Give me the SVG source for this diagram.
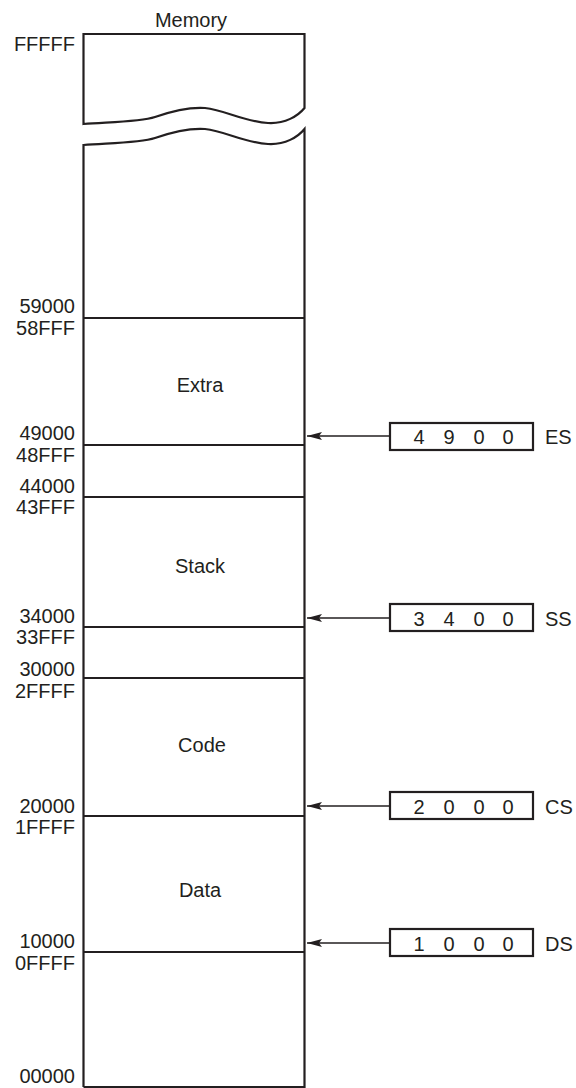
<svg xmlns="http://www.w3.org/2000/svg" width="576" height="1088" viewBox="0 0 576 1088">
<style>
text{font-family:"Liberation Sans",Arial,sans-serif;font-size:20px;fill:#231f20}
.addr{text-anchor:end}
.seg{text-anchor:middle}
.mem{fill:none;stroke:#231f20;stroke-width:2.2}
.div{stroke:#231f20;stroke-width:2.2}
.box{fill:#fff;stroke:#231f20;stroke-width:2.2}
.arr{stroke:#231f20;stroke-width:1.3;marker-end:url(#ah)}
.dig{text-anchor:middle}
</style>
<defs>
<marker id="ah" viewBox="0 0 15 8" refX="15" refY="4" markerWidth="15" markerHeight="8" markerUnits="userSpaceOnUse" orient="auto">
<path d="M0,0 L15,4 L0,8 L3,4 Z" fill="#231f20"/>
</marker>
</defs>
<g id="memory">
<text x="191" y="27" class="seg">Memory</text>
<path class="mem" d="M83.5,124 L83.5,34 L304.5,34 L304.5,108 C298,116 285,124 268,123 C245,122 225,110 205,108 C190,107 175,110 155,117 C140,122 110,122 83.5,124 Z"/>
<path class="mem" d="M83.5,1087 L83.5,145 C110,143 140,143 155,138 C175,131 190,128 205,129 C225,131 245,143 268,144 C285,145 298,137 304.5,129 L304.5,1087 L83.5,1087"/>
</g>
<g id="divisions">
<line class="div" x1="83.5" y1="318" x2="304.5" y2="318"/>
<line class="div" x1="83.5" y1="445" x2="304.5" y2="445"/>
<line class="div" x1="83.5" y1="497" x2="304.5" y2="497"/>
<line class="div" x1="83.5" y1="627" x2="304.5" y2="627"/>
<line class="div" x1="83.5" y1="678" x2="304.5" y2="678"/>
<line class="div" x1="83.5" y1="816" x2="304.5" y2="816"/>
<line class="div" x1="83.5" y1="952" x2="304.5" y2="952"/>
</g>
<g id="segments">
<text x="200" y="392" class="seg">Extra</text>
<text x="200" y="573" class="seg">Stack</text>
<text x="202" y="752" class="seg">Code</text>
<text x="200" y="897" class="seg">Data</text>
</g>
<g id="addresses">
<text x="75" y="51" class="addr">FFFFF</text>
<text x="75" y="313" class="addr">59000</text>
<text x="75" y="335" class="addr">58FFF</text>
<text x="75" y="440" class="addr">49000</text>
<text x="75" y="462" class="addr">48FFF</text>
<text x="75" y="493" class="addr">44000</text>
<text x="75" y="514" class="addr">43FFF</text>
<text x="75" y="623" class="addr">34000</text>
<text x="75" y="644" class="addr">33FFF</text>
<text x="75" y="676" class="addr">30000</text>
<text x="75" y="698" class="addr">2FFFF</text>
<text x="75" y="813" class="addr">20000</text>
<text x="75" y="834" class="addr">1FFFF</text>
<text x="75" y="948" class="addr">10000</text>
<text x="75" y="970" class="addr">0FFFF</text>
<text x="75" y="1083" class="addr">00000</text>
</g>
<g id="connectors">
<line class="arr" x1="390" y1="436" x2="307" y2="436"/>
<line class="arr" x1="390" y1="618" x2="307" y2="618"/>
<line class="arr" x1="390" y1="806" x2="307" y2="806"/>
<line class="arr" x1="390" y1="943" x2="307" y2="943"/>
</g>
<g id="reg-es">
<rect class="box" x="390" y="423" width="143" height="27"/>
<text x="419" y="444" class="dig">4</text>
<text x="449" y="444" class="dig">9</text>
<text x="479" y="444" class="dig">0</text>
<text x="508" y="444" class="dig">0</text>
<text x="545" y="444">ES</text>
</g>
<g id="reg-ss">
<rect class="box" x="390" y="604" width="143" height="27"/>
<text x="419" y="626" class="dig">3</text>
<text x="449" y="626" class="dig">4</text>
<text x="479" y="626" class="dig">0</text>
<text x="508" y="626" class="dig">0</text>
<text x="545" y="626">SS</text>
</g>
<g id="reg-cs">
<rect class="box" x="390" y="792" width="143" height="27"/>
<text x="419" y="814" class="dig">2</text>
<text x="449" y="814" class="dig">0</text>
<text x="479" y="814" class="dig">0</text>
<text x="508" y="814" class="dig">0</text>
<text x="545" y="814">CS</text>
</g>
<g id="reg-ds">
<rect class="box" x="390" y="929" width="143" height="27"/>
<text x="419" y="951" class="dig">1</text>
<text x="449" y="951" class="dig">0</text>
<text x="479" y="951" class="dig">0</text>
<text x="508" y="951" class="dig">0</text>
<text x="545" y="951">DS</text>
</g>
</svg>
